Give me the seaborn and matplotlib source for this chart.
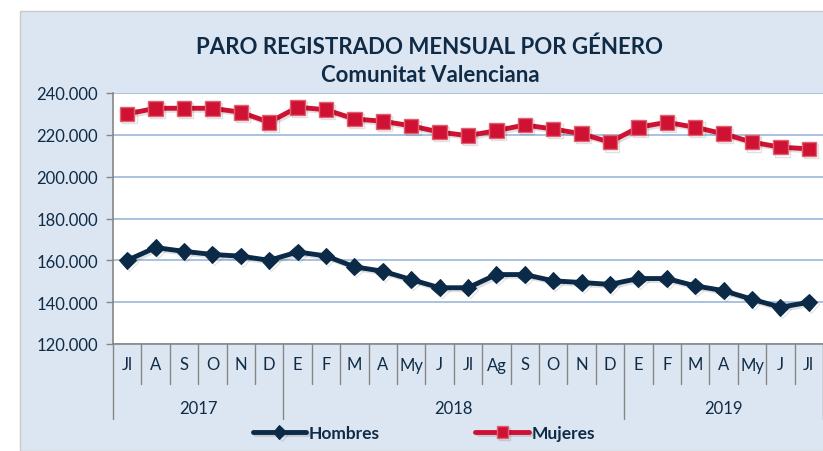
import matplotlib
matplotlib.use("Agg")

import matplotlib.pyplot as plt
import matplotlib.patheffects as pe
from matplotlib.patches import Rectangle
from matplotlib.ticker import FuncFormatter
import numpy as np
import seaborn as sns

MONTHS = ["Jl", "A", "S", "O", "N", "D",
          "E", "F", "M", "A", "My", "J", "Jl", "Ag", "S", "O", "N", "D",
          "E", "F", "M", "A", "My", "J", "Jl"]
YEARS = ["2017"] * 6 + ["2018"] * 12 + ["2019"] * 7
HOMBRES = [160000, 166100, 164300, 162800, 162000, 160000,
           164000, 162100, 156900, 154800, 150800, 146900, 146900, 153200,
           153200, 150200, 149400, 148500,
           151300, 151300, 147800, 145500, 141400, 137600, 139900]
MUJERES = [230000, 232700, 232700, 232700, 230800, 226000,
           233200, 232000, 227600, 226500, 224300, 221300, 219600, 222000,
           224700, 222800, 220500, 216500,
           223600, 226000, 223600, 220500, 216500, 214100, 213300]

NAVY = "#0B2A47"
RED = "#CF1133"
TEXT = "#0F2B46"
PANEL = "#DCE6F2"

sns.set_theme(style="white")
plt.rcParams["font.family"] = ["Lato", "DejaVu Sans"]

fig = plt.figure(figsize=(8.23, 4.52), dpi=100)
fig.patch.set_facecolor("white")
fig.patches.append(Rectangle((20 / 823, 0), 1, 1 - 12 / 452, transform=fig.transFigure,
                             facecolor=PANEL, edgecolor="#C9C9C9", linewidth=1, zorder=-1))

ax = fig.add_axes([113 / 823, 1 - 345 / 452, 710 / 823, 251 / 452])
ax.set_facecolor("white")

x = np.arange(len(MONTHS))
shadow = [pe.SimpleLineShadow(offset=(1.5, -1.5), alpha=0.12, shadow_color="black"), pe.Normal()]

sns.lineplot(x=x, y=HOMBRES, ax=ax, color=NAVY, marker="D", markersize=8.5,
             markeredgecolor=NAVY, linewidth=3.5, label="Hombres", legend=False)
sns.lineplot(x=x, y=MUJERES, ax=ax, color=RED, marker="s", markersize=10.5,
             markeredgecolor="#E0606E", markeredgewidth=1, linewidth=3.5,
             label="Mujeres", legend=False)
handles = list(ax.lines[:2])
for line in handles:
    line.set_path_effects(shadow)

ax.set_ylim(120000, 240000)
ax.set_yticks(range(120000, 240001, 20000))
ax.yaxis.set_major_formatter(FuncFormatter(lambda v, p: f"{int(v):,}".replace(",", ".")))
ax.grid(axis="y", color="#9BB7DB", linewidth=1.2)
ax.set_axisbelow(True)
ax.set_xlim(-0.5, len(MONTHS) - 0.5)
ax.set_xticks(x)
ax.set_xticklabels(MONTHS)
ax.tick_params(axis="x", length=0, pad=9, labelsize=12, labelcolor=TEXT)
ax.tick_params(axis="y", length=5, width=1, color="#868686", direction="out",
               left=True, labelsize=12, labelcolor=TEXT, pad=6)
for side in ["top", "right"]:
    ax.spines[side].set_visible(False)
for side in ["left", "bottom"]:
    ax.spines[side].set_color("#868686")
    ax.spines[side].set_linewidth(1.2)

# month and year separators under the axis
trans = ax.get_xaxis_transform()
for i in range(len(MONTHS) + 1):
    new_year = i == 0 or i == len(MONTHS) or YEARS[i] != YEARS[i - 1]
    bottom = -0.30 if new_year else -0.16
    ax.plot([i - 0.5, i - 0.5], [0, bottom], transform=trans, color="#868686",
            linewidth=1, clip_on=False)

for year in dict.fromkeys(YEARS):
    idx = [i for i, y in enumerate(YEARS) if y == year]
    ax.text((idx[0] + idx[-1]) / 2, -0.255, year, transform=trans, ha="center",
            va="center", fontsize=12, color=TEXT)

fig.text(430 / 823, 1 - 47 / 452, "PARO REGISTRADO MENSUAL POR GÉNERO", ha="center",
         va="center", fontsize=16, fontweight="bold", color=TEXT)
fig.text(430 / 823, 1 - 75 / 452, "Comunitat Valenciana", ha="center",
         va="center", fontsize=16, fontweight="bold", color=TEXT)

fig.legend(handles=handles, labels=["Hombres", "Mujeres"], loc="center",
           bbox_to_anchor=(424 / 823, 1 - 434 / 452), ncol=2, frameon=False,
           handlelength=3.1, columnspacing=5.5, handletextpad=0.15, markerscale=0.8,
           prop={"size": 12.5, "weight": "bold"}, labelcolor=TEXT)

fig.savefig("out.png", dpi=100)
